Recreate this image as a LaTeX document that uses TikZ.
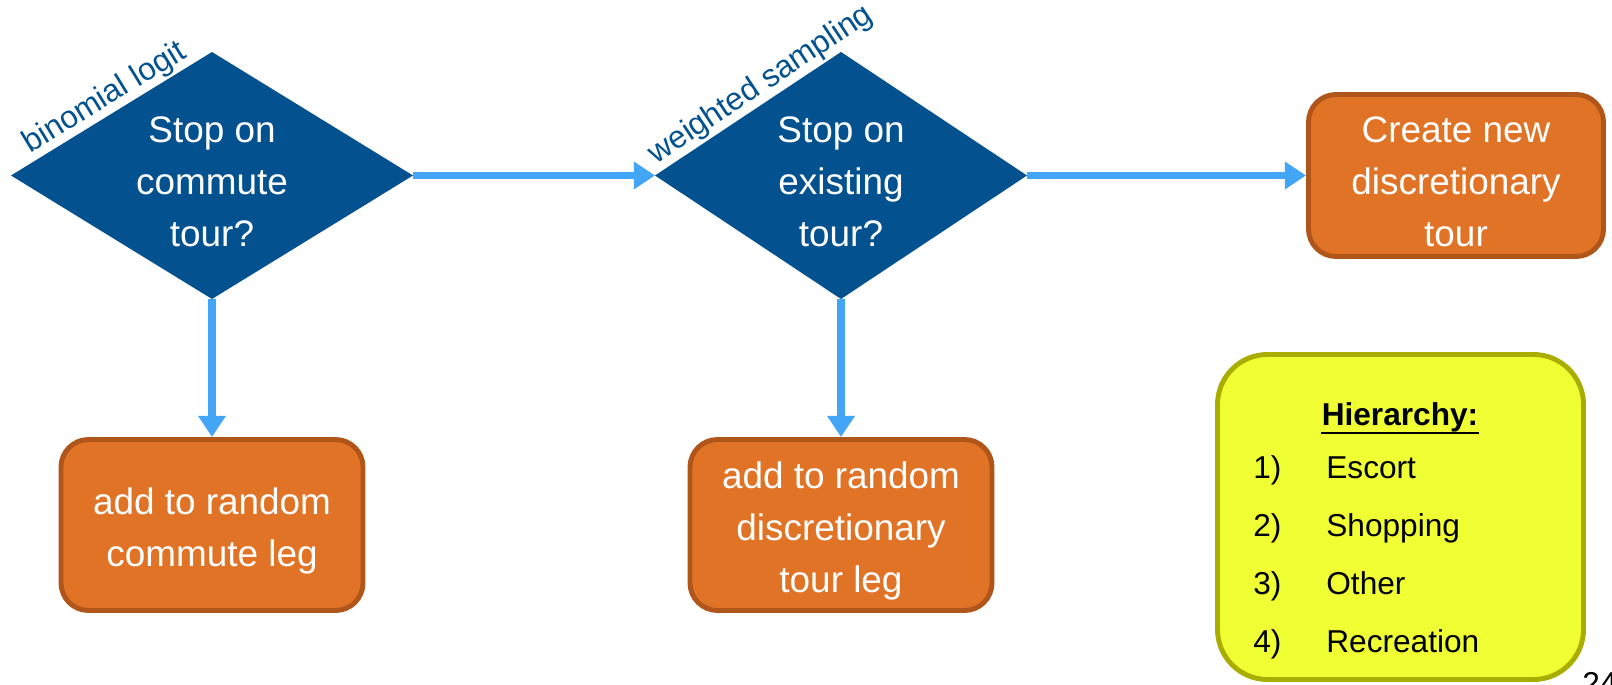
\documentclass[tikz,border=0pt]{standalone}
\usepackage{fontspec}
\setmainfont{Liberation Sans}
\usetikzlibrary{shapes.geometric,arrows.meta,calc}

\definecolor{tourblue}{RGB}{3,82,143}
\definecolor{flowblue}{RGB}{66,165,245}
\definecolor{boxorange}{RGB}{224,115,38}
\definecolor{boxbrown}{RGB}{176,86,26}
\definecolor{noteyellow}{RGB}{240,255,51}
\definecolor{noteolive}{RGB}{169,173,0}

\newcommand{\capstrut}{\rule{0pt}{0.76cm}}

\begin{document}
\begin{tikzpicture}[
    decision/.style={diamond, fill=tourblue, text=white, inner sep=0pt, outer sep=0pt,
        minimum height=4.94cm, align=center, font=\fontsize{21}{29.6}\selectfont},
    action/.style={rectangle, rounded corners=0.55cm, fill=boxorange, draw=boxbrown,
        line width=2.8pt, text=white, align=center, minimum width=6.04cm,
        minimum height=3.42cm, font=\fontsize{21}{29.6}\selectfont},
    flow/.style={-{Triangle[length=12pt,width=15pt]}, line width=4.5pt, draw=flowblue},
    method/.style={text=tourblue, anchor=south, inner sep=1pt, font=\fontsize{18}{22}\selectfont},
    note/.style={rectangle, rounded corners=1cm, fill=noteyellow, draw=noteolive,
        line width=2.8pt, minimum width=7.32cm, minimum height=6.5cm},
    item/.style={anchor=base west, inner sep=0pt, font=\fontsize{18}{22}\selectfont},
]
\useasboundingbox (0,0) rectangle (32.24,13.68);

% decisions
\node[decision, minimum width=8.04cm, shape aspect=1.628] (commute) at (4.24,10.17) {\capstrut Stop on\\commute\\tour?};
\node[decision, minimum width=7.44cm, shape aspect=1.506] (existing) at (16.82,10.17) {\capstrut Stop on\\existing\\tour?};

\node[method, rotate=31.57] (logit) at ($(commute.west)!0.51!(commute.north)$) {binomial logit};
\node[method, rotate=33.58] (sampling) at ($(existing.west)!0.62!(existing.north)$) {weighted sampling};

% outcomes
\node[action, minimum width=5.9cm, minimum height=3.24cm] (newtour) at (29.12,10.17) {\capstrut Create new\\discretionary\\tour};
\node[action] (commuteleg) at (4.24,3.18) {\capstrut add to random\\commute leg};
\node[action] (discleg) at (16.82,3.18) {\capstrut add to random\\discretionary\\tour leg};

\draw[flow] (commute.east) -- (existing.west);
\draw[flow] (existing.east) -- (newtour.west);
\draw[flow] (commute.south) -- (commuteleg.north);
\draw[flow] (existing.south) -- (discleg.north);

% hierarchy
\node[note] (hier) at (28.01,3.34) {};
\node[anchor=base, inner sep=0pt, font=\bfseries\fontsize{18}{22}\selectfont] (hiertitle) at (28.0,5.16) {Hierarchy:};
\draw[line width=1.1pt] (hiertitle.south west) -- (hiertitle.south east);
\foreach \i/\t in {1/Escort,2/Shopping,3/Other,4/Recreation}{
    \node[item] (num\i) at (25.06,{4.10-(\i-1)*1.154}) {\i)};
    \node[item] (cat\i) at (26.52,{4.10-(\i-1)*1.154}) {\t};
}

\node[anchor=north west, inner sep=0pt, font=\fontsize{18}{22}\selectfont] (page) at (31.64,0.24) {24};

\end{tikzpicture}
\end{document}
